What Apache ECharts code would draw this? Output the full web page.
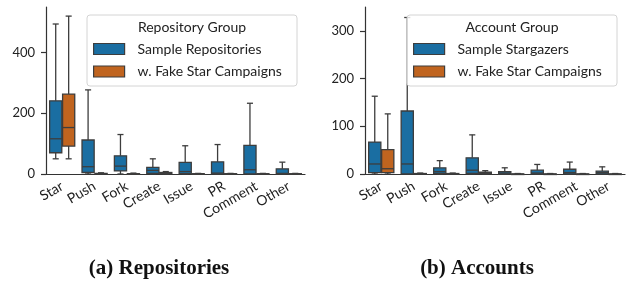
<!DOCTYPE html>
<html lang="en">
<head>
	<meta charset="UTF-8">
	<title>Activity boxplots</title>
	<style>
		html, body { margin: 0; padding: 0; background: #fff; }
	</style>
</head>
<body>
	<div id="main" style="width: 626px;height: 284px"></div>
	<script src="https://cdn.jsdelivr.net/npm/echarts@6/dist/echarts.min.js"></script>
	<script>
		// 事件类别
		var categories = ['Star', 'Push', 'Fork', 'Create', 'Issue', 'PR', 'Comment', 'Other'];

		// 每个箱子: [下须, Q1, 中位数, Q3, 上须]
		var repoSample = [
			[50, 70, 116, 241, 494],
			[0, 5, 24, 112, 277],
			[0, 10, 26, 60, 130],
			[0, 2, 12, 22, 50],
			[0, 1, 8, 38, 93],
			[0, 0, 3, 40, 97],
			[0, 0, 14, 94, 233],
			[0, 0, 2, 17, 39]
		];
		var repoFake = [
			[50, 92, 153, 263, 520],
			[0, 0, 1, 2, 4],
			[0, 0, 0, 1, 3],
			[0, 1, 3, 5, 8],
			[0, 0, 0, 1, 2],
			[0, 0, 0, 1, 2],
			[0, 0, 0, 1, 2],
			[0, 0, 0, 1, 2]
		];
		var accSample = [
			[0, 3, 21, 67, 163],
			[0, 0, 21, 132, 328],
			[0, 1, 5, 13, 28],
			[0, 1, 8, 34, 82],
			[0, 0, 2, 5, 13],
			[0, 0, 2, 8, 20],
			[0, 0, 3, 10, 25],
			[0, 0, 3, 6, 15]
		];
		var accFake = [
			[0, 3, 11, 51, 126],
			[0, 0, 0, 1, 2],
			[0, 0, 0, 1, 2],
			[0, 1, 2, 4, 7],
			[0, 0, 0, 0, 1],
			[0, 0, 0, 0, 1],
			[0, 0, 0, 0, 1],
			[0, 0, 0, 0, 1]
		];

		// y 轴刻度
		var repoTicks = [0, 200, 400];
		var accTicks = [0, 100, 200, 300];

		var BLUE = '#1a6ea2';
		var ORANGE = '#c0641f';
		var EDGE = '#3d3d3d';
		var FONT = 'Lato';

		function toItems(arr) {
			return arr.map(function (d, i) { return [i].concat(d); });
		}

		// 用坐标轴换算画一个箱子, side = -1 左边, 1 右边
		function boxRenderer(side) {
			return function (params, api) {
				var cat = api.value(0);
				var band = api.size([1, 0])[0];
				var cx = api.coord([cat, 0])[0] + side * band * 0.2;
				var w = band * 0.4 - 0.8;
				var yMin = api.coord([cat, api.value(1)])[1];
				var yQ1 = api.coord([cat, api.value(2)])[1];
				var yMed = api.coord([cat, api.value(3)])[1];
				var yQ3 = api.coord([cat, api.value(4)])[1];
				var yMax = api.coord([cat, api.value(5)])[1];
				var capW = w * 0.5;
				var ls = { stroke: EDGE, lineWidth: 1.3 };
				return {
					type: 'group',
					children: [
						{ type: 'line', shape: { x1: cx, y1: yQ1, x2: cx, y2: yMin }, style: ls },
						{ type: 'line', shape: { x1: cx, y1: yQ3, x2: cx, y2: yMax }, style: ls },
						{ type: 'line', shape: { x1: cx - capW / 2, y1: yMin, x2: cx + capW / 2, y2: yMin }, style: ls },
						{ type: 'line', shape: { x1: cx - capW / 2, y1: yMax, x2: cx + capW / 2, y2: yMax }, style: ls },
						{ type: 'rect', shape: { x: cx - w / 2, y: yQ3, width: w, height: Math.max(yQ1 - yQ3, 0.5) },
							style: { fill: api.visual('color'), stroke: EDGE, lineWidth: 1.3 } },
						{ type: 'line', shape: { x1: cx - w / 2, y1: yMed, x2: cx + w / 2, y2: yMed }, style: ls }
					]
				};
			};
		}

		function xAxis(gridIndex) {
			return {
				type: 'category',
				gridIndex: gridIndex,
				data: categories,
				axisLine: { lineStyle: { color: '#333', width: 1.2 } },
				axisTick: { alignWithLabel: true, length: 5, lineStyle: { color: '#333', width: 1.2 } },
				axisLabel: { rotate: 30, margin: 11, fontSize: 14, fontFamily: FONT, color: '#222', interval: 0 }
			};
		}

		function yAxis(gridIndex, max, ticks) {
			return {
				type: 'value',
				gridIndex: gridIndex,
				min: 0,
				max: max,
				splitLine: { show: false },
				axisLine: { show: true, lineStyle: { color: '#333', width: 1.2 } },
				axisTick: { show: true, length: 5, customValues: ticks, lineStyle: { color: '#333', width: 1.2 } },
				axisLabel: { customValues: ticks, margin: 11, fontSize: 13, fontFamily: FONT, color: '#222' }
			};
		}

		function boxSeries(name, data, color, side, axisIndex) {
			return {
				name: name,
				type: 'custom',
				xAxisIndex: axisIndex,
				yAxisIndex: axisIndex,
				itemStyle: { color: color },
				renderItem: boxRenderer(side),
				encode: { x: 0, y: [1, 2, 3, 4, 5] },
				data: toItems(data)
			};
		}

		function legend(left, names) {
			return {
				left: left,
				top: 41,
				padding: 0,
				orient: 'vertical',
				z: 10,
				icon: 'rect',
				itemWidth: 31,
				itemHeight: 11,
				itemGap: 6.5,
				data: names,
				selectedMode: false,
				itemStyle: { borderColor: EDGE, borderWidth: 1.2 },
				textStyle: { fontFamily: FONT, fontSize: 14, color: '#222', padding: [0, 0, 0, 8], lineHeight: 16 }
			};
		}

		function legendFrame(x, title, titleX) {
			return [
				{ type: 'rect', z: 8, shape: { x: x, y: 15, width: 210, height: 71, r: 3 },
					style: { fill: 'rgba(255,255,255,0.8)', stroke: '#d4d4d4', lineWidth: 1 } },
				{ type: 'text', z: 9, x: titleX, y: 27,
					style: { text: title, fill: '#222', font: '14px ' + FONT, align: 'center', verticalAlign: 'middle' } }
			];
		}

		var myChart = echarts.init(document.getElementById('main'));

		myChart.setOption({
			animation: false,
			grid: [
				{ left: 46, right: 321, top: 7, bottom: 110 },
				{ left: 365, right: 1, top: 7, bottom: 110 }
			],
			xAxis: [xAxis(0), xAxis(1)],
			yAxis: [yAxis(0, 550, repoTicks), yAxis(1, 350, accTicks)],
			legend: [
				legend(93, ['Sample Repositories', 'w. Fake Star Campaigns']),
				legend(413, ['Sample Stargazers', 'w. Fake Star Campaigns'])
			],
			graphic: legendFrame(87, 'Repository Group', 192)
				.concat(legendFrame(407, 'Account Group', 512))
				.concat([
					{ type: 'text', x: 159, y: 269,
						style: { text: '(a) Repositories', fill: '#111', font: 'bold 21px "Liberation Serif"', align: 'center', verticalAlign: 'middle' } },
					{ type: 'text', x: 477, y: 269,
						style: { text: '(b) Accounts', fill: '#111', font: 'bold 21px "Liberation Serif"', align: 'center', verticalAlign: 'middle' } }
				]),
			series: [
				boxSeries('Sample Repositories', repoSample, BLUE, -1, 0),
				boxSeries('w. Fake Star Campaigns', repoFake, ORANGE, 1, 0),
				boxSeries('Sample Stargazers', accSample, BLUE, -1, 1),
				boxSeries('w. Fake Star Campaigns', accFake, ORANGE, 1, 1)
			]
		});
	</script>
</body>
</html>
